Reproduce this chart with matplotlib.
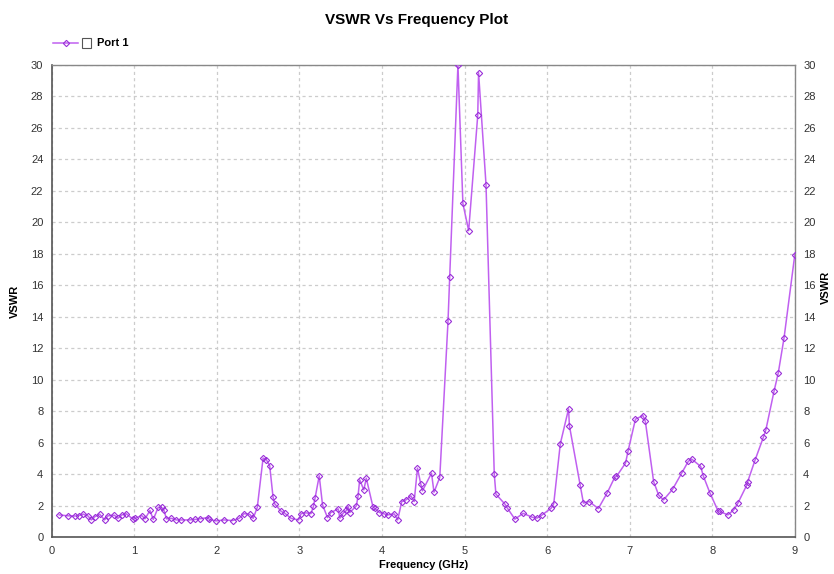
import matplotlib
matplotlib.use("Agg")
import matplotlib.pyplot as plt
from matplotlib.lines import Line2D
from matplotlib.patches import Rectangle

plt.rcParams['font.family'] = ['Liberation Sans', 'DejaVu Sans']

freq_ghz = [0.09, 0.20, 0.28, 0.33, 0.38, 0.44, 0.48, 0.52, 0.58, 0.64, 0.68, 0.76, 0.80, 0.85, 0.90,
            0.99, 1.01, 1.09, 1.13, 1.19, 1.23, 1.29, 1.33, 1.36, 1.39, 1.45, 1.51, 1.57, 1.67, 1.73,
            1.79, 1.89, 1.91, 1.99, 2.09, 2.19, 2.27, 2.33, 2.40, 2.44, 2.49, 2.56, 2.60, 2.64, 2.68,
            2.70, 2.78, 2.82, 2.90, 2.99, 3.02, 3.08, 3.14, 3.17, 3.19, 3.24, 3.28, 3.34, 3.38, 3.47,
            3.49, 3.53, 3.57, 3.59, 3.61, 3.69, 3.71, 3.73, 3.78, 3.81, 3.89, 3.91, 3.97, 4.03, 4.07,
            4.15, 4.19, 4.24, 4.29, 4.35, 4.39, 4.43, 4.47, 4.49, 4.60, 4.63, 4.70, 4.80, 4.82, 4.92,
            4.98, 5.05, 5.16, 5.17, 5.26, 5.36, 5.38, 5.49, 5.52, 5.61, 5.71, 5.82, 5.88, 5.94, 6.05,
            6.08, 6.16, 6.26, 6.27, 6.40, 6.44, 6.51, 6.62, 6.73, 6.82, 6.84, 6.95, 6.98, 7.07, 7.16,
            7.19, 7.29, 7.35, 7.41, 7.52, 7.63, 7.71, 7.75, 7.86, 7.89, 7.97, 8.07, 8.09, 8.19, 8.26,
            8.31, 8.42, 8.43, 8.52, 8.62, 8.65, 8.75, 8.80, 8.87, 9.00]
vswr = [1.42, 1.36, 1.35, 1.38, 1.47, 1.35, 1.10, 1.30, 1.47, 1.10, 1.36, 1.40, 1.20, 1.42, 1.50,
        1.13, 1.20, 1.38, 1.17, 1.70, 1.13, 1.90, 1.90, 1.70, 1.17, 1.20, 1.10, 1.10, 1.10, 1.13,
        1.17, 1.25, 1.13, 1.04, 1.10, 1.06, 1.20, 1.50, 1.45, 1.20, 1.90, 5.03, 4.92, 4.55, 2.58,
        2.13, 1.64, 1.54, 1.20, 1.10, 1.50, 1.55, 1.50, 1.96, 2.50, 3.90, 2.06, 1.25, 1.57, 1.80,
        1.21, 1.53, 1.70, 1.95, 1.57, 2.00, 2.60, 3.65, 3.01, 3.75, 1.95, 1.84, 1.57, 1.48, 1.42,
        1.48, 1.10, 2.27, 2.37, 2.63, 2.27, 4.39, 3.38, 2.95, 4.07, 2.86, 3.80, 13.73, 16.50, 30.0,
        21.2, 19.47, 26.8, 29.5, 22.4, 4.01, 2.74, 2.10, 1.84, 1.15, 1.52, 1.27, 1.22, 1.42, 1.85,
        2.12, 5.94, 8.15, 7.09, 3.33, 2.17, 2.27, 1.82, 2.84, 3.82, 3.86, 4.71, 5.46, 7.50, 7.73,
        7.36, 3.54, 2.69, 2.37, 3.05, 4.07, 4.82, 4.97, 4.50, 3.92, 2.84, 1.68, 1.64, 1.42, 1.74,
        2.16, 3.33, 3.54, 4.92, 6.36, 6.83, 9.31, 10.44, 12.67, 17.94]

x_ticks = list(range(0, 10))
y_ticks = list(range(0, 31, 2))

line_color = '#c060f0'
marker_edge = '#9a30d8'

fig = plt.figure(figsize=(8.34, 5.74), dpi=100)
ax = fig.add_axes([0.062, 0.064, 0.891, 0.823])
ax.plot(freq_ghz, vswr, color=line_color, lw=1.1, marker='D', markersize=3.2,
        markerfacecolor='none', markeredgecolor=marker_edge, markeredgewidth=0.8, zorder=3)
ax.set_xlim(0, 9)
ax.set_ylim(0, 30)
ax.set_xticks(x_ticks)
ax.set_yticks(y_ticks)
ax.grid(True, color='#cccccc', linestyle=(0, (2.5, 2.5)), lw=0.9)
ax.tick_params(length=0, labelsize=8, pad=6, colors='#333333')
for s in ['left', 'bottom']:
    ax.spines[s].set_color('#555555')
    ax.spines[s].set_linewidth(1.2)
for s in ['top', 'right']:
    ax.spines[s].set_color('#888888')
    ax.spines[s].set_linewidth(1.0)
ax.set_xlabel('Frequency (GHz)', fontsize=8, fontweight='bold', labelpad=3)
ax.set_ylabel('VSWR', fontsize=8, fontweight='bold', labelpad=8)

ax2 = ax.twinx()
ax2.set_ylim(0, 30)
ax2.set_yticks(y_ticks)
ax2.tick_params(length=0, labelsize=8, pad=6, colors='#333333')
for s in ax2.spines.values():
    s.set_visible(False)
fig.text(826 / 834, 0.5, 'VSWR', rotation=90, ha='center', va='center', fontsize=8, fontweight='bold')

fig.text(0.5, 0.965, 'VSWR Vs Frequency Plot', ha='center', va='center', fontsize=11, fontweight='bold')

# legend
leg_y = 0.925
fig.add_artist(Line2D([0.064, 0.094], [leg_y, leg_y], transform=fig.transFigure, color=line_color, lw=1.1))
fig.add_artist(Line2D([0.079], [leg_y], transform=fig.transFigure, marker='D', markersize=3.2,
                      markerfacecolor='none', markeredgecolor=marker_edge, markeredgewidth=0.8))
fig.add_artist(Rectangle((0.0985, leg_y - 0.009), 0.011, 0.018, transform=fig.transFigure,
                         facecolor='white', edgecolor='#555555', lw=0.8))
fig.text(0.116, leg_y, 'Port 1', ha='left', va='center', fontsize=8, fontweight='bold')

fig.savefig('out.png', dpi=100)
